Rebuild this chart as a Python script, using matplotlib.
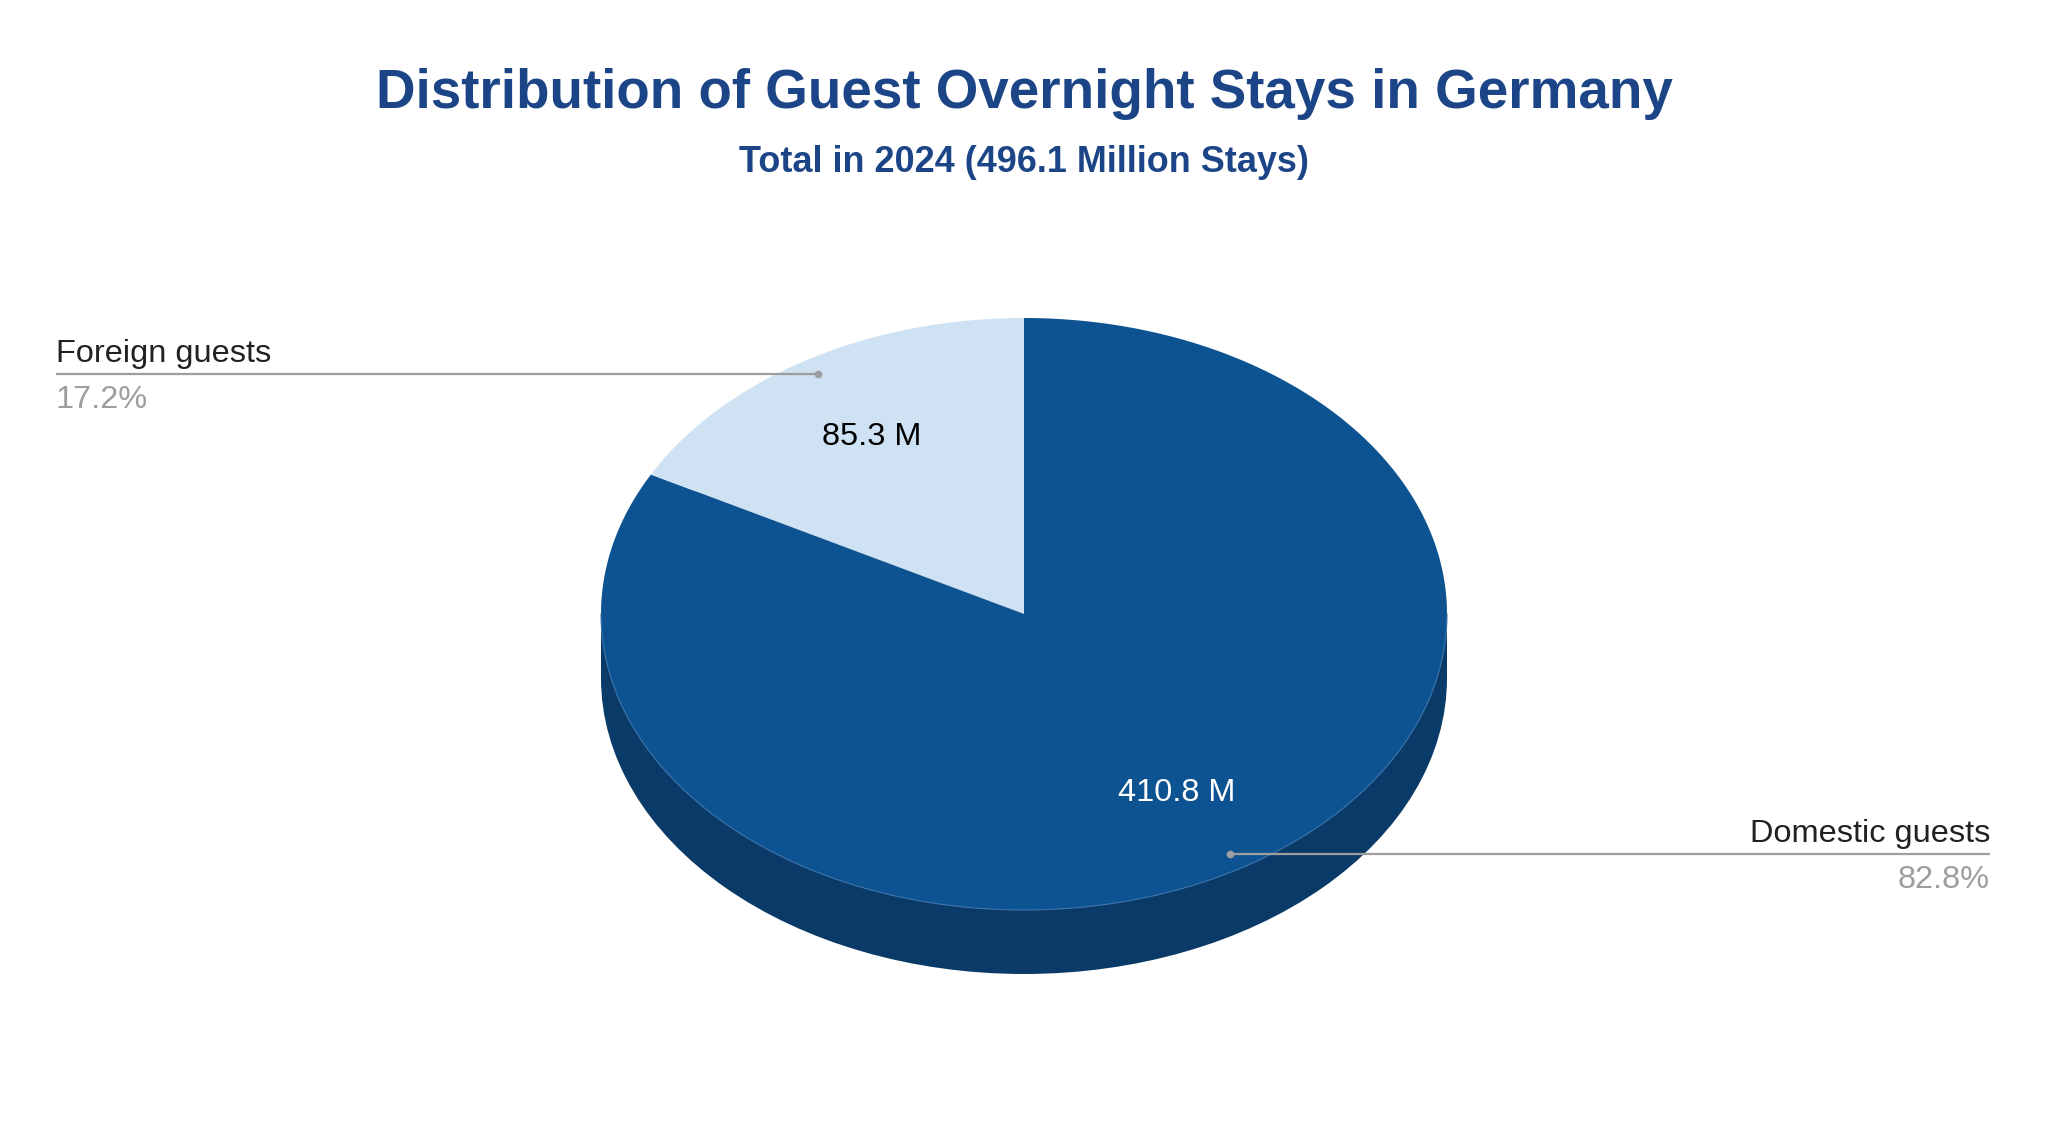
import numpy as np
import matplotlib
matplotlib.use("Agg")
import matplotlib.pyplot as plt
from matplotlib.patches import Polygon, Ellipse, Rectangle

# ---- data ----
categories = ["Domestic guests", "Foreign guests"]
values = [410.8, 85.3]          # million stays
value_labels = ["410.8 M", "85.3 M"]
title = "Distribution of Guest Overnight Stays in Germany"
subtitle = "Total in 2024 (496.1 Million Stays)"

# ---- style ----
top_colors = ["#0E5391", "#CFE2F3"]
side_color = "#0A3A68"
value_colors = ["white", "black"]
title_color = "#1C4587"
W, H = 2048, 1124
cx, cy = 1024, 614
rx, ry = 423, 296
depth = 64
FONT = ["Liberation Sans", "DejaVu Sans"]
plt.rcParams["font.family"] = FONT

fig = plt.figure(figsize=(W / 100, H / 100), dpi=100)
ax = fig.add_axes([0, 0, 1, 1])
ax.set_xlim(0, W)
ax.set_ylim(H, 0)
ax.axis("off")


def ell(t, r=1.0, dy=0.0):
    return cx + r * rx * np.cos(t), cy - r * ry * np.sin(t) + dy

# side wall (front)
ax.add_patch(Ellipse((cx, cy + depth), 2 * rx, 2 * ry, color=side_color, lw=0, zorder=1))
ax.add_patch(Rectangle((cx - rx, cy), 2 * rx, depth, color=side_color, lw=0, zorder=1))

total = sum(values)
fracs = [v / total for v in values]
start = np.pi / 2
angles = []
a = start
for f in fracs:
    a1 = a - f * 2 * np.pi   # clockwise
    angles.append((a, a1))
    a = a1

for i, (a0, a1) in enumerate(angles):
    t = np.linspace(a0, a1, 400)
    xs, ys = ell(t)
    pts = np.column_stack([np.r_[cx, xs], np.r_[cy, ys]])
    ax.add_patch(Polygon(pts, closed=True, facecolor=top_colors[i], edgecolor="none", zorder=2))

# subtle rim
t = np.linspace(np.pi, 2 * np.pi, 400)
xs, ys = ell(t)
ax.plot(xs, ys, color="#3F75AD", lw=0.8, zorder=3)

# value labels & leader lines
label_x = {"left": 56, "right": 1990}
for i, (a0, a1) in enumerate(angles):
    mid = (a0 + a1) / 2
    lx, ly = ell(mid, 0.7)
    ax.text(lx, ly + 1, value_labels[i], color=value_colors[i], fontsize=23.4,
            ha="center", va="center", zorder=4)
    dx, dy = ell(mid, 0.945)
    side = "right" if np.cos(mid) > 0 else "left"
    ex = label_x[side]
    ax.plot([dx, ex], [dy, dy], color="#9E9E9E", lw=1.6, zorder=4,
            solid_capstyle="butt")
    ax.plot([dx], [dy], "o", color="#9E9E9E", ms=4.5, zorder=5)
    ha = "left" if side == "left" else "right"
    ax.text(ex, dy - 5, categories[i], color="#212121", fontsize=23.4,
            ha=ha, va="bottom", zorder=4)
    ax.text(ex, dy + 11, f"{fracs[i] * 100:.1f}%", color="#9E9E9E", fontsize=23.4,
            ha=ha, va="top", zorder=4)

fig.text(0.5, 1 - 94 / H, title, color=title_color, fontsize=39.4, fontweight="bold",
         ha="center", va="center")
fig.text(0.5, 1 - 163 / H, subtitle, color=title_color, fontsize=25.9, fontweight="bold",
         ha="center", va="center")

fig.savefig("out.png", dpi=100, facecolor="white")
